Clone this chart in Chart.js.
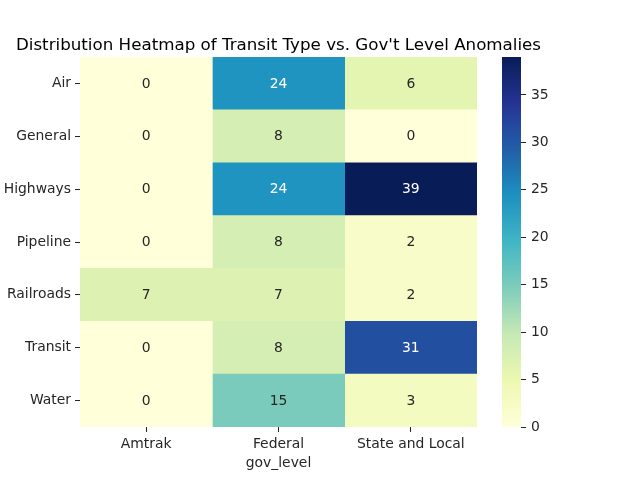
<!DOCTYPE html>
<html><head><meta charset="utf-8">
<script src="https://cdn.jsdelivr.net/npm/chart.js@4"></script>
<style>
html,body{margin:0;padding:0;background:#fff;}
#wrap{position:relative;width:640px;height:480px;}
#main{position:absolute;left:0;top:0;}
#cbar{position:absolute;left:490px;top:0;}
</style></head>
<body><div id="wrap"><canvas id="main" width="557" height="480"></canvas><canvas id="cbar" width="150" height="480"></canvas></div>
<script>
const transitTypes = ['Air','General','Highways','Pipeline','Railroads','Transit','Water'];
const govLevels = ['Amtrak','Federal','State and Local'];
const amtrak = [0,0,0,0,7,0,0];
const federal = [24,8,24,8,7,8,15];
const stateLocal = [6,0,39,2,2,31,3];
const colorbarTicks = [0,5,10,15,20,25,30,35];
const vmin = 0, vmax = 39;
const titleText = "Distribution Heatmap of Transit Type vs. Gov't Level Anomalies";

const FONT = "'DejaVu Sans', sans-serif";
const YLGNBU = ['#ffffd9','#edf8b1','#c7e9b4','#7fcdbb','#41b6c4','#1d91c0','#225ea8','#253494','#081d58'];
function hex(h){return [parseInt(h.slice(1,3),16),parseInt(h.slice(3,5),16),parseInt(h.slice(5,7),16)];}
function cmapRGB(v){
  let t=(v-vmin)/(vmax-vmin); t=Math.max(0,Math.min(1,t));
  const p=t*(YLGNBU.length-1); const i=Math.min(Math.floor(p),YLGNBU.length-2); const f=p-i;
  const a=hex(YLGNBU[i]), b=hex(YLGNBU[i+1]);
  return a.map((c,k)=>c+(b[k]-c)*f);
}
function cmap(v){const c=cmapRGB(v);return `rgb(${c.map(Math.round).join(',')})`;}
function textColor(v){
  const c=cmapRGB(v).map(x=>{x/=255;return x<=0.03928?x/12.92:Math.pow((x+0.055)/1.055,2.4);});
  const lum=0.2126*c[0]+0.7152*c[1]+0.0722*c[2];
  return lum>0.408?'#262626':'#ffffff';
}
const columns=[amtrak,federal,stateLocal];
const datasets=columns.map((col,ci)=>({
  label:govLevels[ci],
  data:col.map(()=>[ci,ci+1]),
  values:col,
  backgroundColor:col.map(cmap),
  borderWidth:0,
  grouped:false,
  barPercentage:1,
  categoryPercentage:1
}));

const annot={
  id:'annot',
  afterDatasetsDraw(chart){
    const ctx=chart.ctx;
    ctx.save();
    ctx.font="13.9px "+FONT;
    ctx.textAlign='center';ctx.textBaseline='middle';
    chart.data.datasets.forEach((ds,di)=>{
      const meta=chart.getDatasetMeta(di);
      meta.data.forEach((el,i)=>{
        const v=ds.values[i];
        const x=(el.x+el.base)/2;
        ctx.fillStyle=textColor(v);
        ctx.fillText(String(v),x,el.y+0.5);
      });
    });
    const a=chart.chartArea;
    ctx.font="16.7px "+FONT;
    ctx.fillStyle='#000';
    ctx.textBaseline='alphabetic';
    ctx.fillText(titleText,(a.left+a.right)/2,50);
    ctx.restore();
  }
};

new Chart(document.getElementById('main'),{
  type:'bar',
  data:{labels:transitTypes,datasets},
  plugins:[annot],
  options:{
    indexAxis:'y',
    responsive:false,animation:false,
    layout:{padding:{left:0,right:80,top:57,bottom:8}},
    plugins:{legend:{display:false},tooltip:{enabled:false},title:{display:false}},
    scales:{
      y:{type:'category',
        afterFit(s){s.width=80;},
        border:{display:false},
        grid:{display:true,drawOnChartArea:false,drawTicks:true,tickLength:5,offset:false,color:'#262626',lineWidth:1},
        ticks:{color:'#262626',font:{family:FONT,size:13.9},padding:4}
      },
      x:{type:'linear',min:0,max:3,
        afterFit(s){s.height=45;},
        afterBuildTicks(s){s.ticks=govLevels.map((_,i)=>({value:i+0.5}));},
        border:{display:false},
        grid:{display:true,drawOnChartArea:false,drawTicks:true,tickLength:5,color:'#262626',lineWidth:1},
        ticks:{color:'#262626',font:{family:FONT,size:13.9},padding:4,maxRotation:0,autoSkip:false,
          callback(v){return govLevels[Math.floor(v)];}},
        title:{display:true,text:'gov_level',color:'#262626',font:{family:FONT,size:13.9},padding:{top:0,bottom:0}}
      }
    }
  }
});

const grad={
  id:'grad',
  beforeDatasetsDraw(chart){
    const {ctx,chartArea:a}=chart; const y=chart.scales.y;
    const y0=y.getPixelForValue(vmin), y1=y.getPixelForValue(vmax);
    const g=ctx.createLinearGradient(0,y0,0,y1);
    YLGNBU.forEach((c,i)=>g.addColorStop(i/(YLGNBU.length-1),c));
    ctx.save();ctx.fillStyle=g;ctx.fillRect(a.left,y1,a.right-a.left,y0-y1);ctx.restore();
  }
};
new Chart(document.getElementById('cbar'),{
  type:'scatter',
  data:{datasets:[{data:[]}]},
  plugins:[grad],
  options:{
    responsive:false,animation:false,
    layout:{padding:{left:12,right:79,top:57,bottom:53}},
    plugins:{legend:{display:false},tooltip:{enabled:false}},
    scales:{
      x:{display:false,min:0,max:1},
      y:{position:'right',min:vmin,max:vmax,
        afterFit(s){s.width=40;},
        afterBuildTicks(s){s.ticks=colorbarTicks.map(v=>({value:v}));},
        border:{display:false},
        grid:{display:true,drawOnChartArea:false,drawTicks:true,tickLength:5,color:'#262626',lineWidth:1},
        ticks:{color:'#262626',font:{family:FONT,size:13.9},padding:5}
      }
    }
  }
});
</script></body></html>
